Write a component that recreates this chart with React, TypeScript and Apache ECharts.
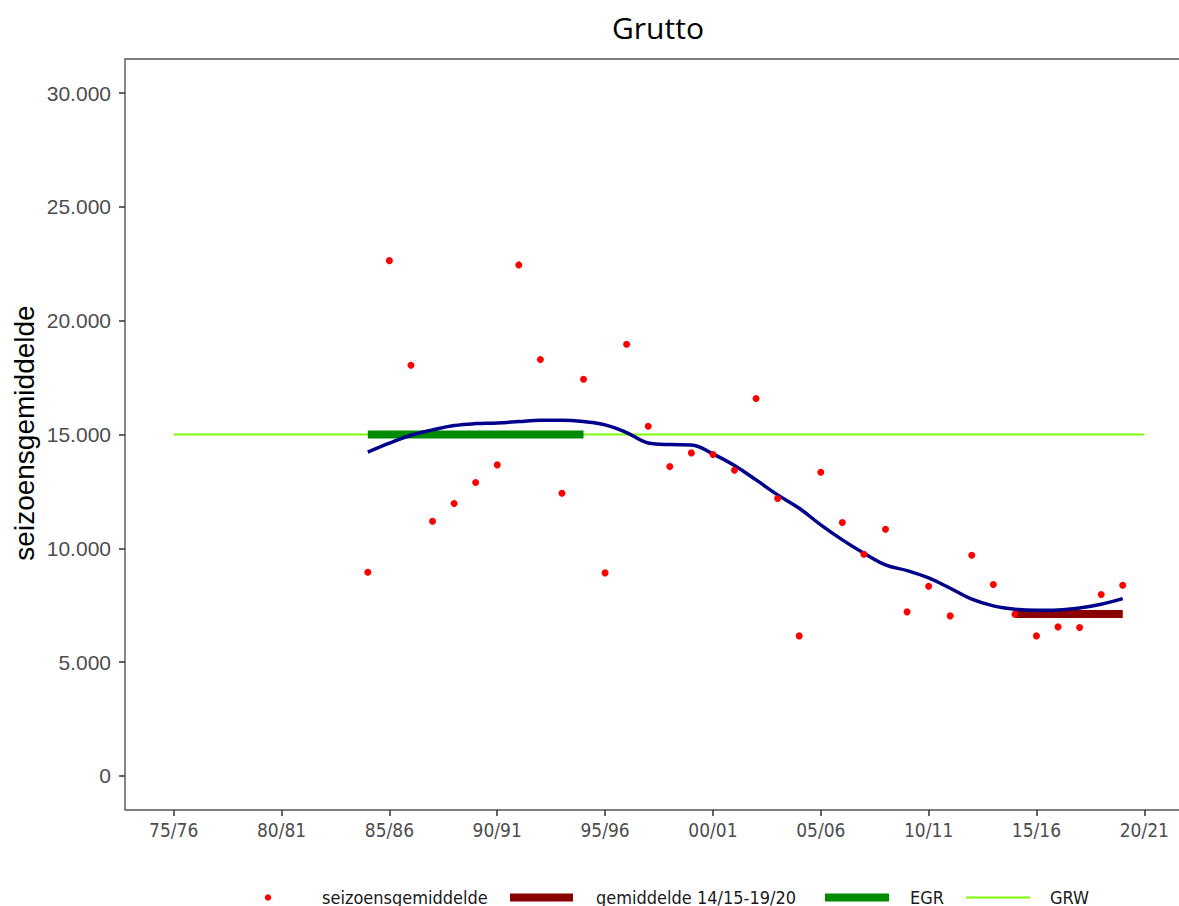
import React, { useEffect, useRef } from "react";
import * as echarts from "echarts";

// seasons by start year: 1984 = 84/85 ... 2019 = 19/20
const seasonYears = [1984, 1985, 1986, 1987, 1988, 1989, 1990, 1991, 1992, 1993, 1994, 1995, 1996, 1997, 1998, 1999, 2000, 2001, 2002, 2003, 2004, 2005, 2006, 2007, 2008, 2009, 2010, 2011, 2012, 2013, 2014, 2015, 2016, 2017, 2018, 2019];
const seasonMeans = [8950, 22640, 18045, 11190, 11965, 12888, 13664, 22452, 18292, 12420, 17429, 8919, 18967, 15364, 13590, 14192, 14118, 13430, 16578, 12185, 6151, 13342, 11130, 9739, 10838, 7206, 8333, 7030, 9695, 8407, 7103, 6151, 6546, 6517, 7967, 8378];
const trendValues = [14222, 14617, 14969, 15202, 15391, 15480, 15510, 15567, 15627, 15627, 15567, 15422, 15085, 14630, 14557, 14543, 14148, 13634, 13005, 12346, 11761, 11028, 10369, 9783, 9270, 9020, 8700, 8246, 7763, 7469, 7323, 7279, 7293, 7381, 7543, 7790];

const recentYears = [2014, 2019];
const recentMean = [7110, 7110];
const egrYears = [1984, 1994];
const egrValues = [15000, 15000];
const grwYears = [1975, 2020];
const grwValues = [15000, 15000];

const xTickYears = [1975, 1980, 1985, 1990, 1995, 2000, 2005, 2010, 2015, 2020];
const xTickLabels = ["75/76", "80/81", "85/86", "90/91", "95/96", "00/01", "05/06", "10/11", "15/16", "20/21"];
const yTicks = [0, 5000, 10000, 15000, 20000, 25000, 30000];

const legendLabels = ["seizoensgemiddelde", "gemiddelde 14/15-19/20", "EGR", "GRW"];

const COND = "'DejaVu Sans Condensed', 'Liberation Sans Narrow', 'DejaVu Sans', sans-serif";
const ARIAL = "'Liberation Sans', Arial, sans-serif";

function fmt(v: number): string {
  return String(v).replace(/\B(?=(\d{3})+(?!\d))/g, ".");
}

function pairs(xs: number[], ys: number[]) {
  return xs.map((x, i) => [x, ys[i]]);
}

export default function App() {
  const ref = useRef<HTMLDivElement>(null);
  useEffect(() => {
    if (!ref.current) return;
    const chart = echarts.init(ref.current, null, { renderer: "svg" });
    const lgY = 897;
    chart.setOption({
      animation: false,
      backgroundColor: "#ffffff",
      grid: {
        left: 125,
        top: 59,
        right: -5,
        height: 751,
        show: true,
        borderColor: "#555555",
        borderWidth: 1.4,
        backgroundColor: "transparent",
        outerBoundsMode: "none",
        containLabel: false,
      },
      xAxis: {
        type: "value",
        min: 1972.742,
        max: 2021.84,
        splitLine: { show: false },
        axisLine: { show: false, onZero: false },
        axisTick: {
          show: true,
          length: 6,
          lineStyle: { color: "#333333", width: 1.5 },
          customValues: xTickYears,
        },
        axisLabel: {
          customValues: xTickYears,
          formatter: (v: number) => {
            const i = xTickYears.indexOf(Math.round(v));
            return i >= 0 ? xTickLabels[i] : "";
          },
          color: "#4d4d4d",
          fontFamily: COND,
          fontSize: 19,
          margin: 10,
        },
      },
      yAxis: {
        type: "value",
        min: -1500,
        max: 31500,
        splitLine: { show: false },
        axisLine: { show: false, onZero: false },
        axisTick: {
          show: true,
          length: 6,
          lineStyle: { color: "#333333", width: 1.5 },
          customValues: yTicks,
        },
        axisLabel: {
          customValues: yTicks,
          formatter: (v: number) => fmt(v),
          color: "#4d4d4d",
          fontFamily: ARIAL,
          fontSize: 21,
          margin: 14,
        },
      },
      series: [
        {
          name: "GRW",
          type: "line",
          data: pairs(grwYears, grwValues),
          symbol: "none",
          lineStyle: { color: "#7CFC00", width: 2 },
          z: 1,
        },
        {
          name: "EGR",
          type: "line",
          data: pairs(egrYears, egrValues),
          symbol: "none",
          lineStyle: { color: "#008B00", width: 8, cap: "butt" },
          z: 2,
        },
        {
          name: "gemiddelde 14/15-19/20",
          type: "line",
          data: pairs(recentYears, recentMean),
          symbol: "none",
          lineStyle: { color: "#8B0000", width: 8, cap: "butt" },
          z: 3,
        },
        {
          name: "trend",
          type: "line",
          data: pairs(seasonYears, trendValues),
          symbol: "none",
          smooth: 0.4,
          lineStyle: { color: "#00008B", width: 3.5 },
          z: 4,
        },
        {
          name: "seizoensgemiddelde",
          type: "scatter",
          data: pairs(seasonYears, seasonMeans),
          symbolSize: 7,
          itemStyle: { color: "#FF0000", opacity: 1 },
          z: 5,
        },
      ],
      graphic: [
        {
          type: "text",
          x: 658,
          y: 27,
          style: {
            text: "Grutto",
            font: "30px 'Open Sans', 'Noto Sans', sans-serif",
            fill: "#000000",
            align: "center",
            verticalAlign: "middle",
          },
        },
        {
          type: "text",
          x: 24,
          y: 433,
          rotation: Math.PI / 2,
          style: {
            text: "seizoensgemiddelde",
            font: "28px " + ARIAL,
            fill: "#000000",
            align: "center",
            verticalAlign: "middle",
          },
        },
        { type: "circle", shape: { cx: 268, cy: 897.5, r: 3.2 }, style: { fill: "#FF0000" } },
        { type: "text", x: 322, y: lgY, style: { text: legendLabels[0], font: "18px " + COND, fill: "#1a1a1a", verticalAlign: "middle" } },
        { type: "rect", shape: { x: 510, y: 893.5, width: 63, height: 8 }, style: { fill: "#8B0000" } },
        { type: "text", x: 596, y: lgY, style: { text: legendLabels[1], font: "18px " + COND, fill: "#1a1a1a", verticalAlign: "middle" } },
        { type: "rect", shape: { x: 825, y: 893.5, width: 64, height: 8 }, style: { fill: "#008B00" } },
        { type: "text", x: 910, y: lgY, style: { text: legendLabels[2], font: "18px " + COND, fill: "#1a1a1a", verticalAlign: "middle" } },
        { type: "line", shape: { x1: 966, y1: 897.5, x2: 1030, y2: 897.5 }, style: { stroke: "#7CFC00", lineWidth: 2 } },
        { type: "text", x: 1050, y: lgY, style: { text: legendLabels[3], font: "18px " + COND, fill: "#1a1a1a", verticalAlign: "middle" } },
      ],
    });
    return () => chart.dispose();
  }, []);
  return (
    <div
      ref={ref}
      style={{ position: "fixed", left: 0, top: 0, width: 1179, height: 906, background: "#fff" }}
    />
  );
}
